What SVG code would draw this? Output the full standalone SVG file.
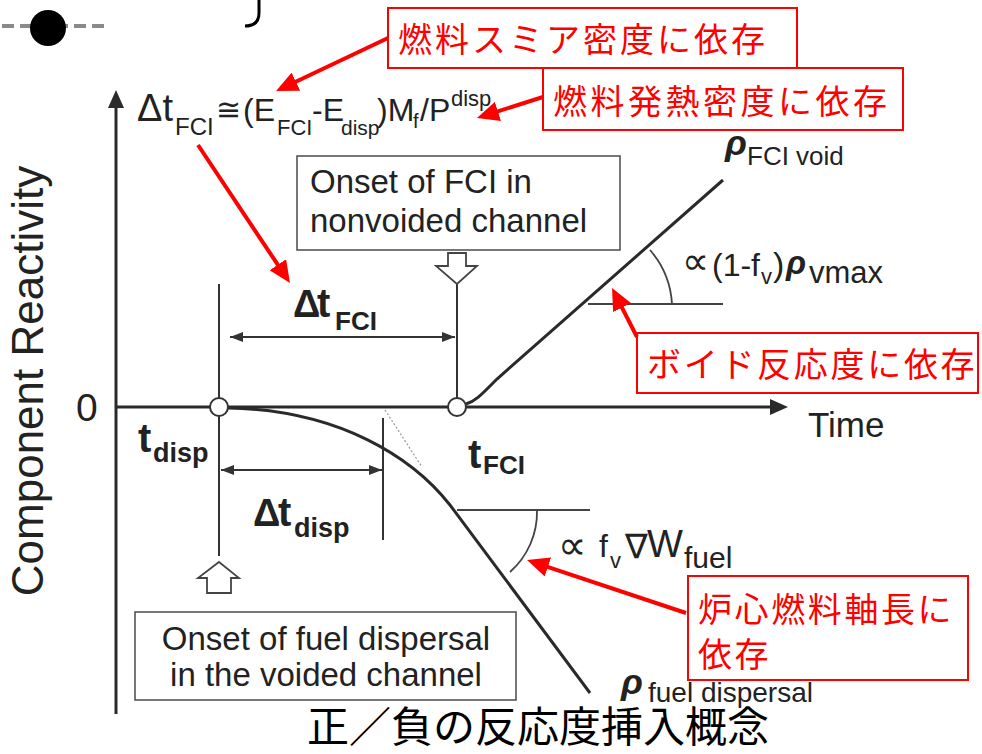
<svg xmlns="http://www.w3.org/2000/svg" width="982" height="754" viewBox="0 0 982 754">
<style>
.ax{stroke:#2a2a2a;stroke-width:3;fill:none}
.th{stroke:#333;stroke-width:2;fill:none}
.ang{stroke:#444;stroke-width:1.8;fill:none}
.box{fill:#fff;stroke:#555;stroke-width:1.6}
.rbox{fill:#fff;stroke:#f00;stroke-width:2}
.rarr{stroke:#f00;stroke-width:4;fill:none;marker-end:url(#rh)}
.dim{stroke:#333;stroke-width:2;fill:none;marker-start:url(#bh);marker-end:url(#bh)}
.t{font-family:"Liberation Sans",Arial,sans-serif;fill:#222}
.b{font-weight:bold}
.rho{font-family:"Liberation Sans",Arial,sans-serif;font-weight:bold;font-style:italic;fill:#222}
.sym{font-family:"DejaVu Sans",sans-serif;fill:#222}
.jp{font-family:"Noto Sans CJK JP",sans-serif;fill:#f00;font-size:34px;letter-spacing:3px}
.hol{fill:#fff;stroke:#444;stroke-width:1.8}
</style>
<defs>
<marker id="rh" markerUnits="userSpaceOnUse" markerWidth="24" markerHeight="20" viewBox="0 0 24 20" refX="6" refY="10" orient="auto"><path d="M0,0 L22,10 L0,20 z" fill="#f00"/></marker>
<marker id="bh" markerUnits="userSpaceOnUse" markerWidth="14" markerHeight="12" viewBox="0 0 14 12" refX="13" refY="6" orient="auto-start-reverse"><path d="M0,1 L13,6 L0,11 z" fill="#333"/></marker>
</defs>
<rect width="982" height="754" fill="#fff"/>

<g id="decoration">
<line x1="2" y1="26" x2="106" y2="26" stroke="#8a8a8a" stroke-width="4" stroke-dasharray="12,6"/>
<circle cx="48" cy="28" r="18" fill="#000"/>
<path d="M259,0 L259,13 Q259,26 245,26" stroke="#000" stroke-width="3" fill="none"/>
</g>

<g id="axes">
<line class="ax" x1="116" y1="714" x2="116" y2="104"/>
<polygon points="116,90 108,108 124,108" fill="#2a2a2a"/>
<line class="ax" x1="116" y1="407" x2="772" y2="407"/>
<polygon points="788,407 770,399 770,415" fill="#2a2a2a"/>
<text class="t" x="43" y="381" font-size="44" text-anchor="middle" transform="rotate(-90 43 381)">Component Reactivity</text>
<text class="t" x="76" y="421" font-size="39">0</text>
<text class="t" x="808" y="437" font-size="35">Time</text>
</g>

<g id="guides">
<line class="th" x1="219" y1="284" x2="219" y2="556"/>
<line class="th" x1="457" y1="284" x2="457" y2="398"/>
<line class="th" x1="383" y1="418" x2="383" y2="540"/>
<line x1="385" y1="410" x2="422" y2="467" stroke="#999" stroke-width="1.2" stroke-dasharray="2,2"/>
</g>

<g id="curves">
<path class="ax" d="M228,408 C340,410 413,458 450,505 L590,693"/>
<path class="ax" d="M466,404 C476,401 482,394 497,379 L723,180"/>
<line class="ang" x1="588" y1="304" x2="723" y2="304"/>
<path class="ang" d="M650,250 A90,90 0 0 1 672,304"/>
<line class="ang" x1="457" y1="510" x2="590" y2="510"/>
<path class="ang" d="M537,510 A80,80 0 0 1 510,572"/>
</g>

<g id="point-disp">
<circle cx="219" cy="407" r="9" fill="#fff" stroke="#333" stroke-width="2"/>
</g>
<g id="point-fci">
<circle cx="457" cy="407" r="9" fill="#fff" stroke="#333" stroke-width="2"/>
</g>

<g id="box-fci">
<rect class="box" x="297" y="156" width="323" height="94"/>
<text class="t" font-size="33"><tspan x="310" y="193">Onset of FCI in</tspan><tspan x="310" y="232">nonvoided channel</tspan></text>
<path class="hol" d="M448,253 L466,253 L466,266 L477,266 L457,284 L436,266 L448,266 Z"/>
</g>

<g id="box-disp">
<rect class="box" x="135" y="612" width="381" height="88"/>
<text class="t" font-size="33" text-anchor="middle"><tspan x="326" y="650">Onset of fuel dispersal</tspan><tspan x="326" y="686">in the voided channel</tspan></text>
<path class="hol" d="M219,562 L239,578 L231,578 L231,593 L207,593 L207,578 L198,578 Z"/>
</g>

<g id="formula">
<text class="t" font-size="32"><tspan x="137" y="121" font-size="38">Δt</tspan><tspan x="175" y="135" font-size="24">FCI</tspan><tspan class="sym" x="216" y="120" font-size="30">≅</tspan><tspan x="243" y="121">(E</tspan><tspan x="277" y="135" font-size="22">FCI</tspan><tspan x="312" y="121">-E</tspan><tspan x="341" y="135" font-size="21">disp</tspan><tspan x="377" y="121">)M</tspan><tspan x="413" y="128" font-size="20">f</tspan><tspan x="420" y="121">/P</tspan><tspan x="451" y="106" font-size="22">disp</tspan></text>
</g>

<g id="labels">
<text class="t b"><tspan x="293" y="317" font-size="38">Δ</tspan><tspan x="317" y="317" font-size="40">t</tspan><tspan x="335" y="330" font-size="26">FCI</tspan></text>
<text class="t b"><tspan x="138" y="452" font-size="40">t</tspan><tspan x="153" y="462" font-size="27">disp</tspan></text>
<text class="t b"><tspan x="468" y="468" font-size="40">t</tspan><tspan x="483" y="474" font-size="26">FCI</tspan></text>
<text class="t b"><tspan x="253" y="526" font-size="38">Δ</tspan><tspan x="278" y="526" font-size="40">t</tspan><tspan x="294" y="537" font-size="27">disp</tspan></text>
<text class="t"><tspan class="rho" x="725" y="155" font-size="36">ρ</tspan><tspan x="747" y="165" font-size="26">FCI void</tspan></text>
<text class="t" font-size="34"><tspan class="sym" x="682" y="274" font-size="38">∝</tspan><tspan x="712" y="276" font-size="32">(1-f</tspan><tspan x="761" y="284" font-size="22">v</tspan><tspan x="773" y="276">)</tspan><tspan class="rho" x="786" y="274" font-size="33">ρ</tspan><tspan x="809" y="283" font-size="31">vmax</tspan></text>
<text class="t" font-size="32"><tspan class="sym" x="558" y="559" font-size="40">∝</tspan><tspan x="599" y="557">f</tspan><tspan x="610" y="568" font-size="22">v</tspan><tspan class="sym" x="625" y="558" font-size="34">∇</tspan><tspan x="647" y="557" font-size="38">W</tspan><tspan x="684" y="568" font-size="30">fuel</tspan></text>
<text class="t"><tspan class="rho" x="621" y="694" font-size="36">ρ</tspan><tspan x="648" y="702" font-size="28">fuel dispersal</tspan></text>
</g>

<g id="note-smear">
<rect class="rbox" x="388" y="8" width="409" height="60"/>
<text class="jp" x="398" y="52">燃料スミア密度に依存</text>
</g>
<g id="note-heat">
<rect class="rbox" x="543" y="68" width="360" height="62"/>
<text class="jp" x="553" y="114" style="letter-spacing:3.5px">燃料発熱密度に依存</text>
</g>
<g id="note-void">
<rect class="rbox" x="637" y="333" width="341" height="60"/>
<text class="jp" x="647" y="377" style="letter-spacing:2.7px">ボイド反応度に依存</text>
</g>
<g id="note-axial">
<rect class="rbox" x="688" y="576" width="280" height="104"/>
<text class="jp" style="letter-spacing:2.6px"><tspan x="698" y="622">炉心燃料軸長に</tspan><tspan x="698" y="667">依存</tspan></text>
</g>

<g id="connectors">
<line class="rarr" x1="388" y1="38" x2="290.5" y2="84.2"/>
<line class="rarr" x1="543" y1="97" x2="492.2" y2="113.2"/>
<line class="rarr" x1="198" y1="145" x2="281.1" y2="269.7"/>
<line class="rarr" x1="637" y1="337" x2="619.3" y2="302.3"/>
<line class="rarr" x1="686" y1="613" x2="542.2" y2="565.1"/>
<line class="dim" x1="230" y1="337" x2="455" y2="337"/>
<line class="dim" x1="221" y1="470" x2="382" y2="470"/>
</g>

<g id="title">
<text x="307" y="742" font-family="Noto Sans CJK JP,sans-serif" font-size="42" fill="#000">正／負の反応度挿入概念</text>
</g>
</svg>
